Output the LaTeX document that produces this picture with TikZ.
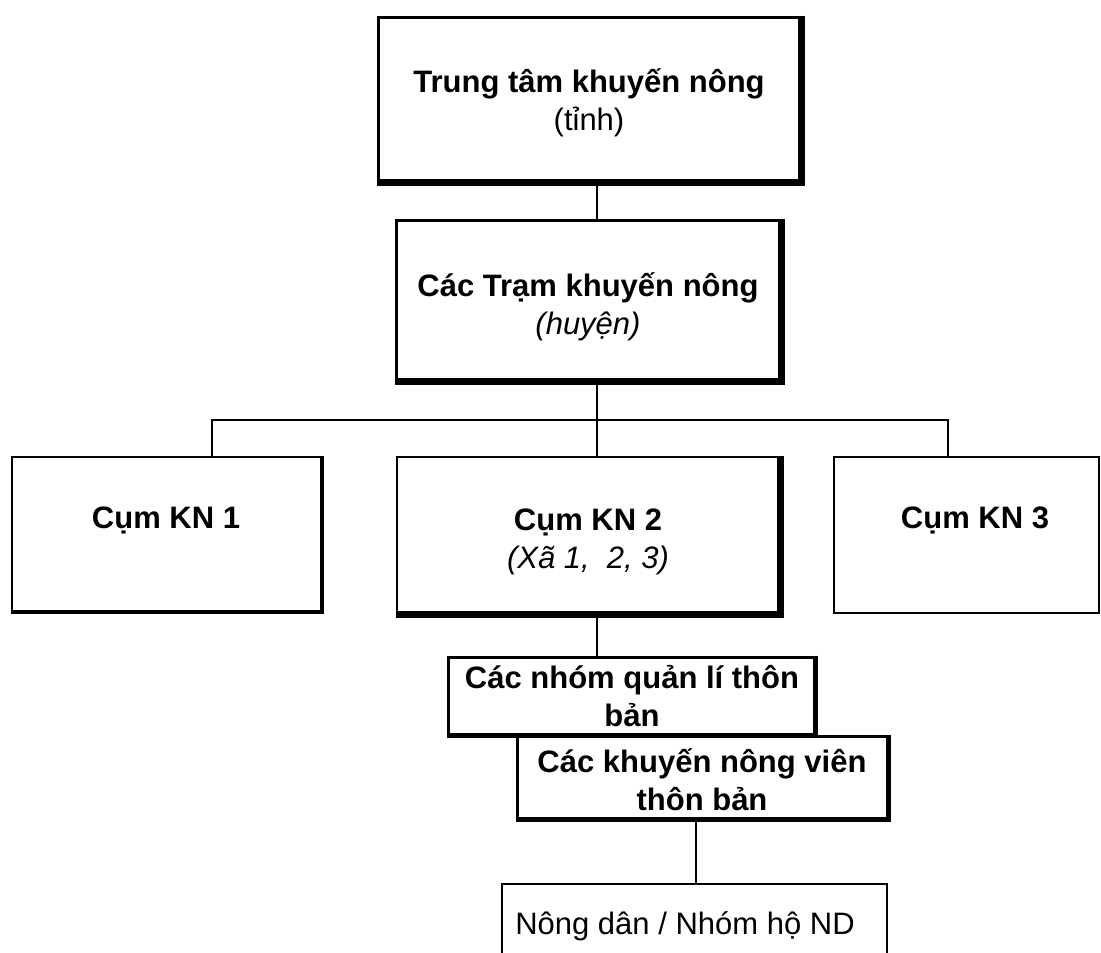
\documentclass[tikz,border=0pt]{standalone}
\usepackage{fontspec}
\setmainfont{Liberation Sans}
\begin{document}
\begin{tikzpicture}[x=1pt,y=-1pt,
  box/.style={draw, rectangle, inner sep=0pt, line width=3pt},
  thinbox/.style={box, line width=1.5pt},
  lbl/.style={inner sep=0pt, align=center, font=\bfseries\fontsize{31}{38}\selectfont},
  plainlbl/.style={lbl, font=\mdseries\fontsize{31}{38}\selectfont},
  shadowline/.style={line width=7pt, line join=miter},
  link/.style={line width=1.5pt}
]
\clip (0,0) rectangle (1101,953);
\fill[white] (0,0) rectangle (1101,953);

% boxes
\node[box, minimum width=422pt, minimum height=164pt] (tt) at (589,99) {};
\node[box, minimum width=384pt, minimum height=160pt] (tram) at (588,300) {};
\node[box, line width=2pt, minimum width=309pt, minimum height=154pt] (kn1) at (166.5,534) {};
\node[box, line width=2pt, minimum width=382pt, minimum height=156pt] (kn2) at (588,535) {};
\node[thinbox, minimum width=265pt, minimum height=156pt] (kn3) at (966.5,535) {};
\node[box, minimum width=370pt, minimum height=82pt] (knv) at (702,777) {};
\node[box, fill=white, minimum width=366pt, minimum height=77pt] (nhom) at (631,695.5) {};
\node[thinbox, minimum width=385pt, minimum height=80pt] (nd) at (694.5,924) {};

% texts
\node[lbl] (ttT) at (589,103) {Trung tâm khuyến nông\\{\mdseries (tỉnh)}};
\node[lbl] (tramT) at (588,307) {Các Trạm khuyến nông\\{\mdseries\itshape (huyện)}};
\node[lbl] (kn1T) at (166,520) {Cụm KN 1};
\node[lbl] (kn2T) at (588,542) {Cụm KN 2\\{\mdseries\itshape (Xã 1,\ \ 2, 3)}};
\node[lbl] (kn3T) at (975,520) {Cụm KN 3};
\node[lbl] (knvT) at (702,780) {Các khuyến nông viên\\thôn bản};
\node[lbl] (nhomT) at (632,696) {Các nhóm quản lí thôn\\bản};
\node[plainlbl] (ndT) at (685,926) {Nông dân / Nhóm hộ ND};

% shadows (thick right and bottom edges)
\draw[shadowline] (tt.north east) -- (tt.south east) -- (tt.south west);
\draw[shadowline] (tram.north east) -- (tram.south east) -- (tram.south west);
\draw[line width=4pt] (kn1.north east) -- (kn1.south east) -- (kn1.south west);
\draw[shadowline] (kn2.north east) -- (kn2.south east) -- (kn2.south west);
\draw[line width=5pt] (nhom.north east) -- (nhom.south east) -- (nhom.south west);
\draw[line width=5pt] (knv.north east) -- (knv.south east) -- (knv.south west);

% connectors
\coordinate (spine) at (597,0);
\coordinate (spineB) at (696,0);
\coordinate (busL) at (212,420);
\coordinate (busR) at (948,420);
\draw[link] (tt.south -| spine) -- (tram.north -| spine);
\draw[link] (tram.south -| spine) -- (kn2.north -| spine);
\draw[link] (kn1.north -| busL) -- (busL) -- (busR) -- (kn3.north -| busR);
\draw[link] (kn2.south -| spine) -- (nhom.north -| spine);
\draw[link] (knv.south -| spineB) -- (nd.north -| spineB);
\end{tikzpicture}
\end{document}
